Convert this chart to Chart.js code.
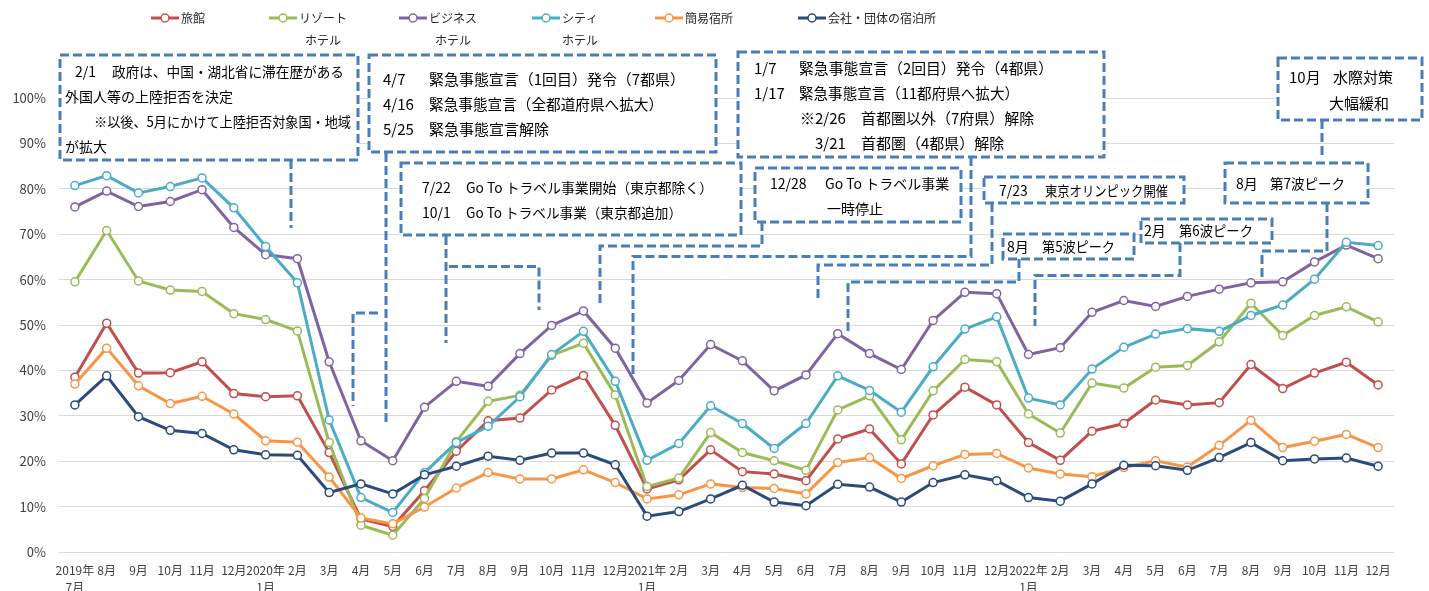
<!DOCTYPE html>
<html lang="ja">
<head>
<meta charset="utf-8">
<script src="https://cdn.jsdelivr.net/npm/chart.js@4/dist/chart.umd.min.js"></script>
<style>
  html,body{margin:0;padding:0;background:#fff;}
  #wrap{width:1429px;height:591px;position:relative;}
</style>
</head>
<body>
<div id="wrap"><canvas id="c" width="1429" height="591"></canvas></div>
<script>
// ---------- DATA ----------
const categories = [
  ['2019年','7月'],'8月','9月','10月','11月','12月',
  ['2020年','1月'],'2月','3月','4月','5月','6月','7月','8月','9月','10月','11月','12月',
  ['2021年','1月'],'2月','3月','4月','5月','6月','7月','8月','9月','10月','11月','12月',
  ['2022年','1月'],'2月','3月','4月','5月','6月','7月','8月','9月','10月','11月','12月'
];
const seriesNames = ['旅館','リゾートホテル','ビジネスホテル','シティホテル','簡易宿所','会社・団体の宿泊所'];
const ryokan   = [38.5,50.4,39.4,39.5,41.9,34.9,34.2,34.4,21.9,7.3, 5.6,13.5,22.2,28.9,29.5,35.7,38.9,27.9,13.9,15.9, 22.5,17.7,17.2,15.7,24.9,27.1,19.4,30.2,36.3,32.4, 24.1,20.2,26.6,28.3,33.5,32.4,32.9,41.3,36.0,39.4, 41.8,36.8];
const resort   = [59.5,70.8,59.7,57.7,57.4,52.5,51.2,48.7,24.1,5.9, 3.7,11.8,24.3,33.2,34.5,43.3,46.0,34.6,14.4,16.3, 26.3,21.9,20.1,18.0,31.3,34.4,24.7,35.5,42.4,41.9, 30.4,26.2,37.2,36.1,40.7,41.1,46.3,54.8,47.7,52.1, 54.0,50.7];
const business = [76.0,79.5,76.1,77.2,79.8,71.5,65.5,64.6,41.9,24.5, 20.1,31.9,37.6,36.5,43.7,49.9,53.1,44.9,32.8,37.8, 45.7,42.1,35.5,39.0,48.1,43.7,40.2,51.0,57.2,56.9, 43.5,45.0,52.8,55.4,54.1,56.3,57.9,59.3,59.5,63.9, 67.6,64.6];
const city     = [80.7,82.9,79.1,80.5,82.4,75.8,67.3,59.3,29.1,12.0, 8.7,17.5,24.1,27.7,34.2,43.5,48.6,37.6,20.2,23.9, 32.2,28.3,22.8,28.3,38.8,35.6,30.8,40.8,49.1,51.8, 33.9,32.4,40.3,45.1,48.0,49.2,48.6,52.1,54.4,60.1, 68.2,67.5];
const kani     = [37.0,44.9,36.6,32.7,34.3,30.4,24.5,24.2,16.5,7.5, 6.2,9.9,14.1,17.5,16.1,16.1,18.1,15.3,11.7,12.6, 15.0,14.2,14.0,12.8,19.7,20.8,16.2,19.0,21.5,21.7, 18.5,17.2,16.6,18.6,20.1,18.7,23.5,29.0,23.0,24.4, 25.9,23.0];
const kaisha   = [32.4,38.8,29.8,26.8,26.1,22.5,21.4,21.3,13.1,15.0, 12.8,17.0,18.9,21.1,20.2,21.8,21.8,19.2,7.9,8.9, 11.7,14.7,11.0,10.2,14.9,14.3,11.0,15.3,17.0,15.7, 12.0,11.2,15.0,19.1,19.0,18.0,20.8,24.1,20.1,20.5, 20.7,18.9];
const yTicks = [0,10,20,30,40,50,60,70,80,90,100];

// ---------- STYLE ----------
const colors = ['#C0504D','#9BBB59','#8064A2','#4BACC6','#F79646','#2A4B7C'];
const FONT = '"Noto Sans CJK JP","Noto Sans",sans-serif';
const seriesData = [ryokan, resort, business, city, kani, kaisha];

const datasets = seriesData.map((d,i)=>({
  label: seriesNames[i],
  data: d,
  borderColor: colors[i],
  backgroundColor: colors[i],
  borderWidth: 3,
  pointRadius: 4,
  pointBorderWidth: 1.5,
  pointBackgroundColor: '#ffffff',
  pointBorderColor: colors[i],
  tension: 0,
  order: 5 - i
}));

// ---------- ANNOTATIONS (layout) ----------
const BOX_COLOR = '#4A7EBB';
const boxes = [
  {r:[60,55,358,160], f:14, t:[['2/1',75,72],['政府は、中国・湖北省に滞在歴がある',112,72,232],['外国人等の上陸拒否を決定',65,97,176],['※以後、5月にかけて上陸拒否対象国・地域',94,122,257],['が拡大',65,147]]},
  {r:[369,55,716,152], f:15, t:[['4/7',383,79],['緊急事態宣言（1回目）発令（7都県）',429,79,256],['4/16',383,104],['緊急事態宣言（全都道府県へ拡大）',429,104,234],['5/25',383,129],['緊急事態宣言解除',429,129,123]]},
  {r:[401,163,741,235], f:14, t:[['7/22',422,188],['Go To トラベル事業開始（東京都除く）',466,188,247],['10/1',422,213],['Go To トラベル事業（東京都追加）',466,213,216]]},
  {r:[738,52,1104,157], f:15, t:[['1/7',754,68],['緊急事態宣言（2回目）発令（4都県）',799,68,254],['1/17',754,93],['緊急事態宣言（11都府県へ拡大）',799,93,220],['※2/26',800,118],['首都圏以外（7府県）解除',861,118,176],['3/21',815,143],['首都圏（4都県）解除',861,143,147]]},
  {r:[755,168,961,222], f:14, t:[['12/28',770,184],['Go To トラベル事業',825,184,126],['一時停止',827,209]]},
  {r:[984,177,1184,203], f:14, t:[['7/23',999,191],['東京オリンピック開催',1045,191,123]]},
  {r:[1003,234,1134,259], f:14, t:[['8月',1007,247],['第5波ピーク',1042,247,73]]},
  {r:[1141,219,1272,243], f:14, t:[['2月',1144,231],['第6波ピーク',1179,231,74]]},
  {r:[1225,163,1368,203], f:14, t:[['8月',1236,184],['第7波ピーク',1270,184,75]]},
  {r:[1278,58,1422,120], f:15, t:[['10月',1289,77],['水際対策',1333,77,61],['大幅緩和',1329,103,61]]}
];
const connectors = [
  [[291,160],[291,228]],
  [[386,153],[386,423]],
  [[378,313],[353,313],[353,406]],
  [[446,236],[446,343]],
  [[449,266.5],[539,266.5],[539,310]],
  [[971,157],[971,256.5],[633,256.5],[633,378]],
  [[762,222],[762,246],[600,246],[600,304]],
  [[992,203],[992,265],[818,265],[818,302]],
  [[1019,259],[1019,282],[848,282],[848,333]],
  [[1180,243],[1180,275.5],[1035,275.5],[1035,326]],
  [[1327,203],[1327,251],[1262,251],[1262,277]],
  [[1322,120],[1322,157]]
];

const annotationPlugin = {
  id: 'annot',
  afterDraw(chart){
    const ctx = chart.ctx;
    ctx.save();
    ctx.strokeStyle = BOX_COLOR;
    ctx.lineWidth = 3;
    ctx.setLineDash([9,4]);
    connectors.forEach(pts=>{
      ctx.beginPath();
      ctx.moveTo(pts[0][0], pts[0][1]);
      for(let k=1;k<pts.length;k++) ctx.lineTo(pts[k][0], pts[k][1]);
      ctx.stroke();
    });
    boxes.forEach(b=>{
      const [x1,y1,x2,y2] = b.r;
      ctx.fillStyle = '#ffffff';
      ctx.fillRect(x1,y1,x2-x1,y2-y1);
      ctx.strokeRect(x1,y1,x2-x1,y2-y1);
      ctx.fillStyle = '#000000';
      ctx.font = b.f + 'px ' + FONT;
      ctx.textBaseline = 'middle';
      ctx.textAlign = 'left';
      b.t.forEach(([s,x,y,mw])=> { if (mw) ctx.fillText(s,x,y,mw); else ctx.fillText(s,x,y); });
    });
    ctx.restore();
  }
};

// custom legend (two-line labels for hotel types)
const legendPos = [151, 269, 399, 532, 655, 798];
const legendLines = [['旅館'],['リゾート','ホテル'],['ビジネス','ホテル'],['シティ','ホテル'],['簡易宿所'],['会社・団体の宿泊所']];
const legendPlugin = {
  id: 'customLegend',
  afterDraw(chart){
    const ctx = chart.ctx;
    ctx.save();
    chart.data.datasets.forEach((ds,i)=>{
      const x = legendPos[i], y = 18;
      ctx.setLineDash([]);
      ctx.strokeStyle = ds.borderColor;
      ctx.lineWidth = 3;
      ctx.beginPath(); ctx.moveTo(x,y); ctx.lineTo(x+28,y); ctx.stroke();
      ctx.fillStyle = '#fff';
      ctx.lineWidth = 1.5;
      ctx.beginPath(); ctx.arc(x+14,y,4,0,Math.PI*2); ctx.fill(); ctx.stroke();
      ctx.fillStyle = '#262626';
      ctx.font = '12px ' + FONT;
      ctx.textBaseline = 'middle';
      const lines = legendLines[i];
      ctx.textAlign = 'left';
      ctx.fillText(lines[0], x+30, y);
      if (lines[1]) {
        const w0 = ctx.measureText(lines[0]).width;
        ctx.textAlign = 'center';
        ctx.fillText(lines[1], x+30+w0/2, y+22);
      }
    });
    ctx.restore();
  }
};

new Chart(document.getElementById('c'), {
  type: 'line',
  data: { labels: categories, datasets },
  options: {
    responsive: false,
    devicePixelRatio: 1,
    animation: false,
    layout: { padding: { top: 98, right: 35, left: 0, bottom: 0 } },
    plugins: { legend: { display: false }, tooltip: { enabled: false } },
    scales: {
      x: {
        offset: true,
        grid: { display: false, drawTicks: false },
        border: { display: false },
        ticks: {
          autoSkip: false, maxRotation: 0, minRotation: 0, padding: 10,
          color: '#404040',
          font: { family: FONT, size: 12, lineHeight: 1.4 }
        },
        afterFit(s){ s.height = 39; }
      },
      y: {
        min: 0, max: 100,
        afterBuildTicks(s){ s.ticks = yTicks.map(v=>({value:v})); },
        grid: { color: '#D9D9D9', lineWidth: 1, drawTicks: false },
        border: { display: false },
        ticks: {
          padding: 13,
          color: '#404040',
          font: { family: FONT, size: 13 },
          callback: v => v + '%'
        },
        afterFit(s){ s.width = 59; }
      }
    }
  },
  plugins: [annotationPlugin, legendPlugin]
});
</script>
</body>
</html>
